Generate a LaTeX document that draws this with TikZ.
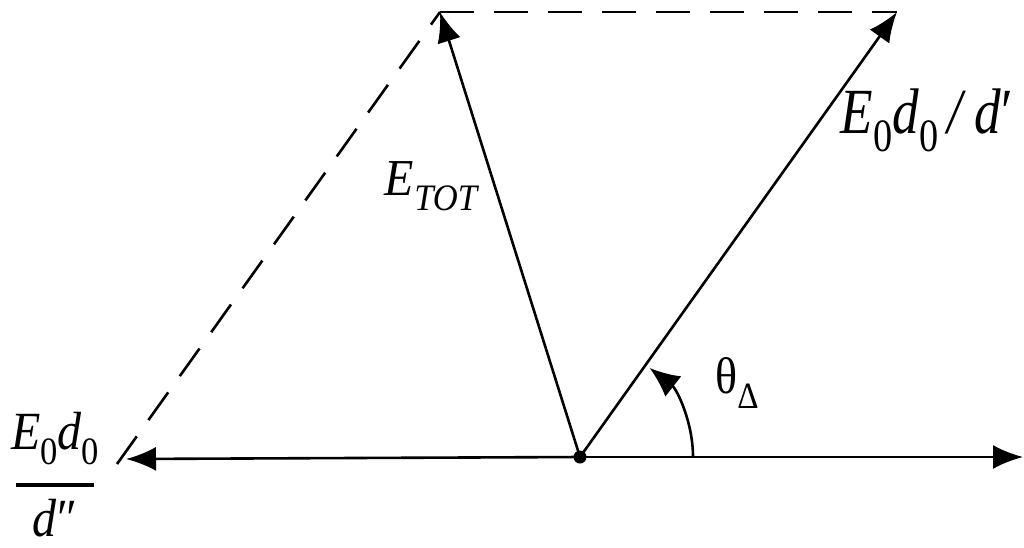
\documentclass[tikz,border=0pt]{standalone}
\usepackage{fontspec}
\setmainfont{Liberation Serif}
\usetikzlibrary{arrows.meta}
\newcommand\lsub[1]{\raisebox{-0.28em}{\scalebox{0.72}{#1}}}
\tikzset{
  vec/.style={line width=2.6pt,-{Latex[length=30pt,width=24pt]}},
  dashln/.style={line width=2.6pt,dash pattern=on 34pt off 20pt},
  lbl/.style={inner sep=0pt}
}
\begin{document}
\begin{tikzpicture}[x=1pt,y=-1pt]
\useasboundingbox (0,0) rectangle (1024,547);
\coordinate (O) at (580,457);
\coordinate (A) at (440,12);
\coordinate (B) at (897,12);
\coordinate (L) at (126,459);
\coordinate (R) at (1023,457);
\coordinate (D) at (117,464);
% axis
\draw[vec] (O) -- (L);
\draw[vec] (O) -- (R);
% dashed
\draw[dashln] (D) -- (A);
\draw[dashln] (A) -- (B);
% vectors
\draw[vec] (O) -- (A);
\draw[vec] (O) -- (B);
\fill (O) circle (6.5);
% angle arc
\draw[line width=2.6pt,-{Latex[length=30pt,width=26pt]}] ([shift={(0:113)}]O) arc[start angle=0,end angle=-52,radius=113];
% labels
\node[lbl,font=\fontsize{48}{48}\selectfont] (lt) at (432,186) {\scalebox{1}[1.08]{\textit{E}\lsub{\textit{TOT}}}};
\node[lbl,font=\fontsize{56}{56}\selectfont] (lb) at (927,120) {\scalebox{0.95}[1.15]{\textit{E}\lsub{0}\textit{d}\lsub{0}\,\textit{/}\,\textit{d}′}};
\node[lbl,font=\fontsize{46}{46}\selectfont] (lth) at (737,383) {\scalebox{1}[1.12]{θ\lsub{Δ}}};
\node[lbl,font=\fontsize{48}{48}\selectfont] (lf) at (55,482) {\scalebox{1}[1.12]{\begin{tabular}{@{}c@{}}\textit{E}\lsub{0}\textit{d}\lsub{0}\\[-14pt]\rule{78pt}{3.5pt}\\[-4pt]\textit{d}″\end{tabular}}};
\end{tikzpicture}
\end{document}
